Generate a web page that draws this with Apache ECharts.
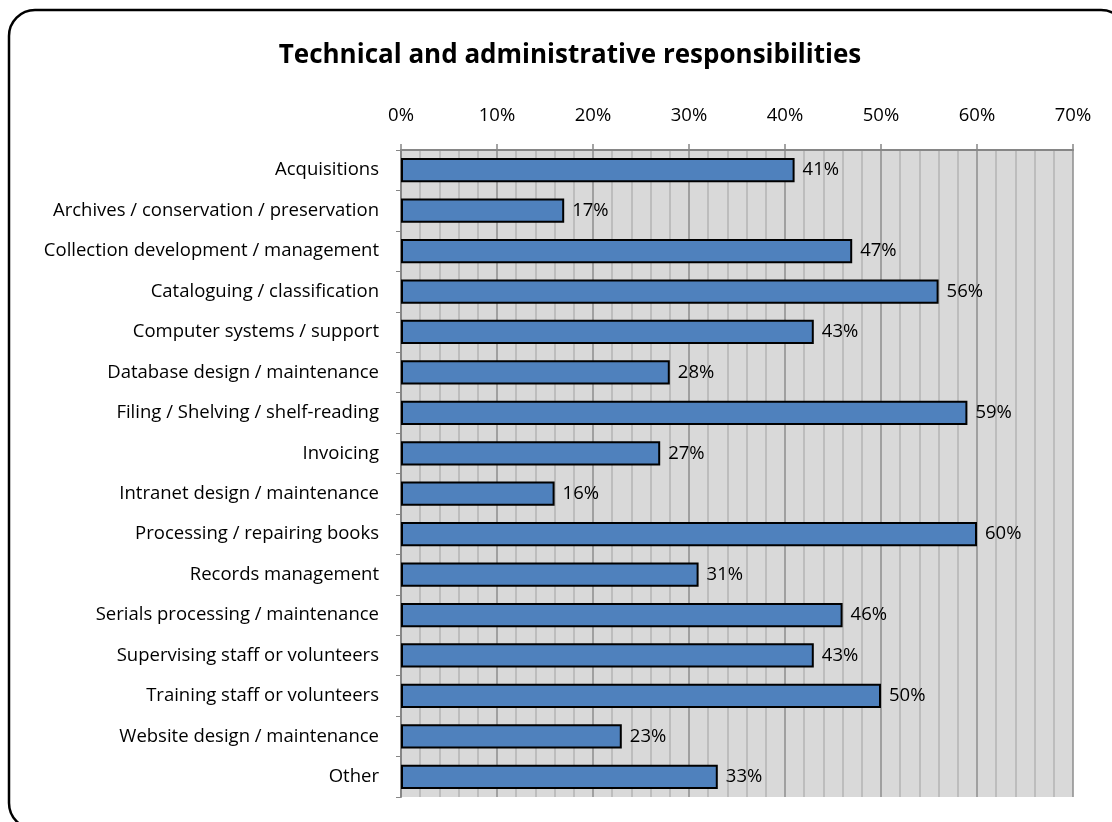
<!DOCTYPE html>
<html>
<head>
<meta charset="utf-8">
<script src="https://cdn.jsdelivr.net/npm/echarts@6/dist/echarts.min.js"></script>
<style>
  html, body { margin: 0; padding: 0; background: #fff; }
  #main { width: 1112px; height: 822px; }
</style>
</head>
<body>
<div id="main"></div>
<script>
const categories = [
  "Acquisitions",
  "Archives / conservation / preservation",
  "Collection development / management",
  "Cataloguing / classification",
  "Computer systems / support",
  "Database design / maintenance",
  "Filing / Shelving / shelf-reading",
  "Invoicing",
  "Intranet design / maintenance",
  "Processing / repairing books",
  "Records management",
  "Serials processing / maintenance",
  "Supervising staff or volunteers",
  "Training staff or volunteers",
  "Website design / maintenance",
  "Other"
];
const values = [41, 17, 47, 56, 43, 28, 59, 27, 16, 60, 31, 46, 43, 50, 23, 33];

let chart = echarts.init(document.getElementById("main"));
let option = {
  backgroundColor: "#fff",
  textStyle: { fontFamily: "'Open Sans', sans-serif" },
  graphic: [
    {
      type: "rect",
      shape: { x: 9, y: 10, width: 1118, height: 819, r: 26 },
      style: { fill: "none", stroke: "#000", lineWidth: 2.5 },
      silent: true
    }
  ],
  title: {
    text: "Technical and administrative responsibilities",
    left: 565,
    textAlign: "center",
    top: 38,
    textStyle: { fontSize: 26, fontWeight: "bold", color: "#000", fontFamily: "'Open Sans', sans-serif" }
  },
  grid: {
    left: 401,
    right: 39,
    top: 150,
    bottom: 25,
    show: true,
    backgroundColor: "#d9d9d9",
    borderWidth: 0
  },
  xAxis: {
    type: "value",
    position: "top",
    min: 0,
    max: 70,
    interval: 10,
    axisLine: { show: true, lineStyle: { color: "#868686", width: 2 } },
    axisTick: { show: true, inside: false, length: 6, lineStyle: { color: "#868686", width: 1.5 } },
    axisLabel: { formatter: "{value}%", fontSize: 18.5, color: "#000", margin: 25 },
    splitLine: { show: true, lineStyle: { color: "#8c8c8c", width: 1.5 } },
    minorTick: { show: false, splitNumber: 5 },
    minorSplitLine: { show: true, lineStyle: { color: "#b4b4b4", width: 1.5 } }
  },
  yAxis: {
    type: "category",
    data: categories,
    inverse: true,
    axisLine: { show: true, lineStyle: { color: "#868686", width: 2 } },
    axisTick: { show: true, length: 5, lineStyle: { color: "#868686" } },
    axisLabel: { fontSize: 18.5, color: "#000", margin: 22 }
  },
  series: [
    {
      type: "bar",
      data: values,
      barCategoryGap: "40%",
      itemStyle: { color: "#4f81bd", borderColor: "#000", borderWidth: 2 },
      label: {
        show: true,
        position: "right",
        distance: 8,
        formatter: "{c}%",
        fontSize: 18.5,
        color: "#000"
      }
    }
  ]
};
chart.setOption(option);
</script>
</body>
</html>
